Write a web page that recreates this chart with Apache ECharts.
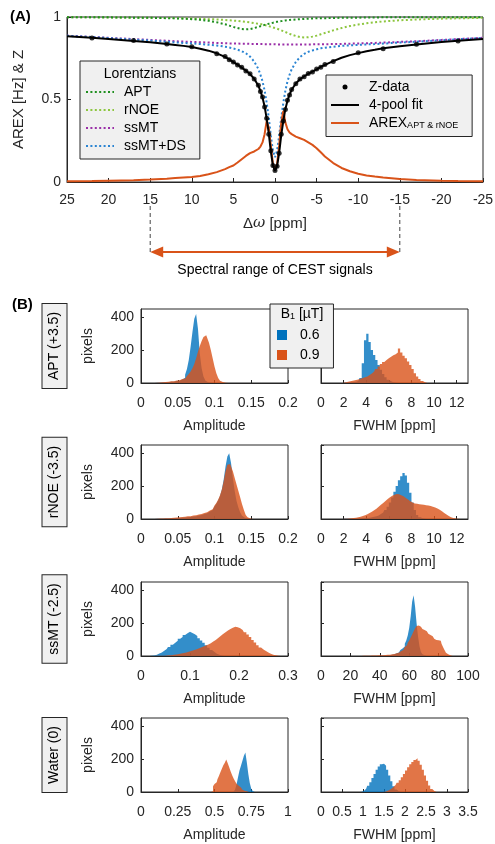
<!DOCTYPE html>
<html>
<head>
<meta charset="utf-8">
<script src="https://cdn.jsdelivr.net/npm/echarts@6/dist/echarts.min.js"></script>
<style>
  html, body { margin: 0; padding: 0; background: #fff; }
  #chart { width: 495px; height: 844px; }
</style>
</head>
<body>
<div id="chart"></div>
<script>
// ---------- Panel A: Z-spectrum, Lorentzian pools and AREX ----------
const offsets = [25,22,20,17,15,13,12,11,10,9,8,7,6,5.5,5,4.5,4,3.5,3,2.5,2,1.75,1.5,1.25,1,0.75,0.5,0.25,0,
  -0.25,-0.5,-0.75,-1,-1.25,-1.5,-1.75,-2,-2.5,-3,-3.5,-4,-4.5,-5,-5.5,-6,-7,-8,-9,-10,-11,-12,-13,-15,-17,-20,-22,-25];

const aptCurve = [0.999,0.998,0.998,0.996,0.995,0.993,0.992,0.990,0.987,0.983,0.977,0.968,0.956,0.948,0.940,0.933,0.927,0.925,0.927,0.933,0.940,0.944,0.948,0.952,0.956,0.959,0.963,0.965,0.968,
  0.971,0.973,0.975,0.977,0.979,0.980,0.982,0.983,0.985,0.987,0.988,0.990,0.991,0.992,0.993,0.993,0.994,0.995,0.996,0.996,0.997,0.997,0.998,0.998,0.998,0.999,0.999,0.999];

const rnoeCurve = [0.998,0.998,0.997,0.996,0.995,0.994,0.993,0.992,0.991,0.989,0.987,0.985,0.982,0.980,0.978,0.976,0.973,0.970,0.967,0.963,0.959,0.957,0.954,0.951,0.948,0.945,0.941,0.937,0.933,
  0.929,0.924,0.919,0.914,0.909,0.903,0.898,0.893,0.885,0.879,0.876,0.877,0.881,0.887,0.895,0.903,0.919,0.933,0.945,0.954,0.962,0.968,0.973,0.980,0.985,0.990,0.992,0.995];

const ssmtCurve = [0.887,0.879,0.874,0.866,0.861,0.856,0.853,0.851,0.849,0.847,0.845,0.843,0.841,0.840,0.840,0.839,0.838,0.838,0.837,0.837,0.836,0.836,0.836,0.835,0.835,0.835,0.835,0.835,0.835,
  0.834,0.834,0.834,0.834,0.834,0.834,0.834,0.834,0.834,0.834,0.834,0.834,0.834,0.835,0.835,0.835,0.836,0.837,0.838,0.840,0.841,0.843,0.845,0.849,0.853,0.861,0.866,0.874];

const ssmtDsCurve = [0.886,0.878,0.872,0.863,0.857,0.850,0.846,0.843,0.840,0.836,0.832,0.827,0.820,0.815,0.809,0.802,0.793,0.780,0.760,0.730,0.685,0.650,0.610,0.555,0.480,0.390,0.280,0.190,0.150,
  0.190,0.280,0.390,0.480,0.555,0.610,0.650,0.683,0.727,0.757,0.776,0.789,0.797,0.804,0.810,0.814,0.820,0.825,0.828,0.831,0.834,0.836,0.839,0.845,0.850,0.859,0.865,0.873];

const fitCurve = [0.883,0.874,0.867,0.855,0.847,0.837,0.831,0.825,0.818,0.808,0.796,0.780,0.758,0.743,0.727,0.711,0.693,0.675,0.654,0.626,0.584,0.551,0.512,0.458,0.384,0.294,0.184,0.100,0.068,
  0.097,0.177,0.284,0.371,0.443,0.493,0.530,0.559,0.597,0.623,0.640,0.656,0.669,0.683,0.698,0.710,0.733,0.753,0.769,0.781,0.793,0.801,0.810,0.823,0.833,0.848,0.856,0.867];

const arexCurve = [0.004,0.006,0.008,0.011,0.015,0.020,0.024,0.027,0.030,0.037,0.047,0.060,0.078,0.090,0.100,0.118,0.138,0.158,0.175,0.185,0.200,0.215,0.240,0.290,0.370,0.330,0.220,0.110,0.070,
  0.110,0.220,0.360,0.430,0.360,0.320,0.300,0.290,0.275,0.265,0.255,0.240,0.225,0.205,0.180,0.155,0.115,0.085,0.065,0.050,0.040,0.033,0.027,0.018,0.012,0.008,0.006,0.004];

const zOffsets = [22,17,13,10,7,6,5.5,5,4.5,4,3.5,3,2.5,2,1.75,1.5,1.25,1,0.75,0.5,0.25,0,
  -0.25,-0.5,-0.75,-1,-1.25,-1.5,-1.75,-2,-2.5,-3,-3.5,-4,-4.5,-5,-5.5,-6,-7,-10,-13,-17,-22];
const zValues = [0.872,0.857,0.836,0.820,0.778,0.760,0.741,0.728,0.709,0.695,0.673,0.656,0.624,0.586,0.548,0.515,0.455,0.387,0.290,0.190,0.100,0.070,
  0.095,0.175,0.290,0.370,0.440,0.495,0.528,0.561,0.595,0.625,0.638,0.658,0.667,0.685,0.696,0.712,0.731,0.783,0.808,0.835,0.855];

const spectralRange = [15, -15];

// ---------- Panel B: fitted-parameter histograms (pixel counts per bin) ----------
// bins = [left edge of first bin, bin width]
const aptAmpBins = [0.02, 0.0025];
const aptAmp06 = [1,2,2,3,4,4,5,6,7,8,10,12,14,17,22,32,50,85,140,220,310,390,420,330,180,90,40,15,5,2,0];
const aptAmp09 = [1,2,3,4,5,6,7,8,10,11,13,15,17,20,24,28,34,42,55,70,90,115,150,190,225,255,280,290,275,245,200,150,100,60,30,14,6,2,1];
const aptFwhmBins = [2.0, 0.2];
const aptFwhm06 = [2,3,4,5,6,8,12,30,120,260,300,250,200,170,140,110,80,55,35,20,10,5,2,1];
const aptFwhm09 = [3,6,9,12,15,18,22,26,30,35,40,48,58,70,85,100,115,128,140,150,160,168,175,185,210,185,165,150,130,110,85,60,40,25,12,5,2];

const rnoeAmpBins = [0.02, 0.0025];
const rnoeAmp06 = [1,1,2,2,3,3,3,4,4,5,5,6,6,7,8,9,10,11,12,14,15,17,19,21,24,27,31,35,40,46,54,64,76,92,112,140,180,240,320,380,400,340,250,170,110,70,40,20,8,3,1];
const rnoeAmp09 = [2,2,3,3,4,4,5,5,6,7,8,9,10,11,12,13,14,16,17,19,21,23,25,27,30,33,37,41,46,52,60,70,82,98,118,145,180,230,290,330,335,320,290,250,210,170,130,90,55,25,10,3,1];
const rnoeFwhmBins = [2.0, 0.2];
const rnoeFwhm06 = [1,1,1,2,2,2,3,3,4,5,6,8,10,13,17,22,30,40,55,75,100,130,165,200,235,260,280,265,220,160,100,55,25,10,4,2,1];
const rnoeFwhm09 = [1,2,3,4,6,8,11,14,18,23,29,36,44,53,63,74,86,98,110,122,133,142,148,152,150,145,138,128,118,108,100,95,92,90,88,86,84,82,79,75,70,64,56,47,37,27,18,11,6,3,1];

const ssmtAmpBins = [0.02, 0.005];
const ssmtAmp06 = [1,3,8,15,22,32,42,55,68,80,92,105,115,128,138,148,140,132,122,108,95,80,65,50,36,24,14,7,3,1];
const ssmtAmp09 = [0,0,1,1,2,2,3,4,5,7,9,12,15,18,22,26,30,35,40,46,52,58,64,70,78,88,98,110,122,134,145,155,164,172,178,175,168,158,145,130,115,98,82,66,52,40,30,21,14,8,4,2,1];
const ssmtFwhm06Bins = [40, 1];
const ssmtFwhm06 = [1,1,2,2,3,4,5,6,8,10,13,17,22,28,36,46,58,75,95,125,170,240,330,370,300,200,120,60,25,10,4,1];
const ssmtFwhm09Bins = [28, 1];
const ssmtFwhm09 = [1,1,2,2,2,2,3,3,3,3,4,4,4,5,5,6,6,7,8,9,10,12,14,17,20,25,30,37,45,55,66,80,95,112,130,150,168,182,186,178,170,164,158,150,142,135,128,120,112,105,98,96,100,92,75,55,36,20,10,4,1];

const waterAmp06Bins = [0.62, 0.01];
const waterAmp06 = [1,4,15,45,90,130,160,190,220,240,180,110,55,20,6,1];
const waterAmp09Bins = [0.48, 0.01];
const waterAmp09 = [5,35,48,60,78,98,120,142,162,178,198,175,150,125,102,82,65,50,38,28,20,13,8,4,2,1];
const waterFwhm06Bins = [0.95, 0.05];
const waterFwhm06 = [2,8,20,38,60,85,110,135,155,168,172,160,135,100,65,35,15,5,1];
const waterFwhm09Bins = [1.5, 0.05];
const waterFwhm09 = [2,6,12,20,30,42,56,72,90,110,130,150,168,182,195,205,190,165,135,100,68,40,18,6,1];

// pool labels and axis ranges [min, max, tick step] per histogram row
const poolLabels = ['APT (+3.5)', 'rNOE (-3.5)', 'ssMT (-2.5)', 'Water (0)'];
const ampAxes = [[0, 0.2, 0.05], [0, 0.2, 0.05], [0, 0.3, 0.1], [0, 1, 0.25]];
const fwhmAxes = [[0, 13, 2], [0, 13, 2], [0, 100, 20], [0, 3.5, 0.5]];
const pixelAxis = [0, 450, 200];
const b1Levels = ['0.6', '0.9'];

const histData = [
  [[aptAmpBins, aptAmp06, aptAmpBins, aptAmp09], [aptFwhmBins, aptFwhm06, aptFwhmBins, aptFwhm09]],
  [[rnoeAmpBins, rnoeAmp06, rnoeAmpBins, rnoeAmp09], [rnoeFwhmBins, rnoeFwhm06, rnoeFwhmBins, rnoeFwhm09]],
  [[ssmtAmpBins, ssmtAmp06, ssmtAmpBins, ssmtAmp09], [ssmtFwhm06Bins, ssmtFwhm06, ssmtFwhm09Bins, ssmtFwhm09]],
  [[waterAmp06Bins, waterAmp06, waterAmp09Bins, waterAmp09], [waterFwhm06Bins, waterFwhm06, waterFwhm09Bins, waterFwhm09]]
];

// ---------- styling ----------
const FONT = '"Liberation Sans", Arial, Helvetica, sans-serif';
const INK = '#262626';
const BLUE = '#0072BD';
const ORANGE = '#D95319';
const C_APT = '#1f8f1f';
const C_RNOE = '#8dc63f';
const C_SSMT = '#9a2fa8';
const C_DS = '#2a84d2';

function pairs(xs, ys) { return xs.map((x, i) => [x, ys[i]]); }

// turn bin counts into step points (bin centres) closed with zero at both ends
function histSteps(bins, counts) {
  const start = bins[0], w = bins[1];
  const pts = [[start - w / 2, 0]];
  counts.forEach((c, i) => pts.push([start + (i + 0.5) * w, c]));
  pts.push([start + (counts.length + 0.5) * w, 0]);
  return pts;
}

const grids = [];
const xAxes = [];
const yAxes = [];
const series = [];

const tickStyle = { show: true, inside: true, length: 4, lineStyle: { color: INK, width: 1 } };
const labelStyle = { color: INK, fontFamily: FONT, fontSize: 14, hideOverlap: false };
const axisLineStyle = { show: true, onZero: false, lineStyle: { color: INK } };

// Panel A grid
grids.push({ left: 67, top: 17, width: 416, height: 165, show: true, borderColor: INK, borderWidth: 1,
  backgroundColor: 'transparent', outerBoundsMode: 'none', containLabel: false });
xAxes.push({
  type: 'value', gridIndex: 0, min: -25, max: 25, interval: 5, inverse: true,
  axisLine: axisLineStyle, axisTick: tickStyle, splitLine: { show: false },
  axisLabel: Object.assign({ margin: 11 }, labelStyle),
  name: '{d|Δ}{w|ω}{p| [ppm]}', nameLocation: 'middle', nameGap: 34,
  nameTextStyle: { color: INK, fontFamily: FONT, fontSize: 15, rich: {
    d: { fontFamily: FONT, fontSize: 15, color: INK },
    w: { fontFamily: '"DejaVu Serif", serif', fontStyle: 'italic', fontSize: 15, color: INK },
    p: { fontFamily: FONT, fontSize: 15, color: INK } } }
});
yAxes.push({
  type: 'value', gridIndex: 0, min: 0, max: 1, interval: 0.5,
  axisLine: axisLineStyle, axisTick: tickStyle, splitLine: { show: false },
  axisLabel: Object.assign({ margin: 6 }, labelStyle),
  name: 'AREX [Hz] & Z', nameLocation: 'middle', nameGap: 41,
  nameTextStyle: { color: INK, fontFamily: FONT, fontSize: 15 }
});

const dotted = (color) => ({ color, width: 2, type: [2, 2.4], cap: 'butt' });
series.push(
  { name: 'rNOE', type: 'line', data: pairs(offsets, rnoeCurve), symbol: 'none', lineStyle: dotted(C_RNOE), itemStyle: { color: C_RNOE }, z: 2 },
  { name: 'APT', type: 'line', data: pairs(offsets, aptCurve), symbol: 'none', lineStyle: dotted(C_APT), itemStyle: { color: C_APT }, z: 2 },
  { name: 'ssMT', type: 'line', data: pairs(offsets, ssmtCurve), symbol: 'none', lineStyle: dotted(C_SSMT), itemStyle: { color: C_SSMT }, z: 2 },
  { name: 'ssMT+DS', type: 'line', data: pairs(offsets, ssmtDsCurve), symbol: 'none', lineStyle: dotted(C_DS), itemStyle: { color: C_DS }, z: 3 },
  { name: 'AREX', type: 'line', data: pairs(offsets, arexCurve), symbol: 'none', lineStyle: { color: ORANGE, width: 2 }, itemStyle: { color: ORANGE }, z: 3 },
  { name: '4-pool fit', type: 'line', data: pairs(offsets, fitCurve), symbol: 'none', lineStyle: { color: '#000', width: 2 }, itemStyle: { color: '#000' }, z: 4 },
  { name: 'Z-data', type: 'scatter', data: pairs(zOffsets, zValues), symbol: 'circle', symbolSize: 5, itemStyle: { color: '#000' }, z: 5 }
);
series.forEach(s => { s.xAxisIndex = 0; s.yAxisIndex = 0; s.silent = true; });

// Panel B grids: two columns per row
const rowTops = [309, 445, 582, 718];
const colLefts = [141, 321];
rowTops.forEach((top, r) => {
  colLefts.forEach((left, c) => {
    const gi = grids.length;
    grids.push({ left, top, width: 147, height: 74, show: true, borderColor: INK, borderWidth: 1,
      backgroundColor: 'transparent', outerBoundsMode: 'none', containLabel: false });
    const ax = c === 0 ? ampAxes[r] : fwhmAxes[r];
    const needsMaxHidden = Math.abs(Math.round(ax[1] / ax[2]) * ax[2] - ax[1]) > 1e-9;
    xAxes.push({
      type: 'value', gridIndex: gi, min: ax[0], max: ax[1], interval: ax[2],
      axisLine: axisLineStyle,
      axisTick: Object.assign({}, tickStyle, { length: 3 }), splitLine: { show: false },
      axisLabel: Object.assign({ margin: 13, showMaxLabel: !needsMaxHidden }, labelStyle),
      name: c === 0 ? 'Amplitude' : 'FWHM [ppm]', nameLocation: 'middle', nameGap: 36,
      nameTextStyle: { color: INK, fontFamily: FONT, fontSize: 14 }
    });
    yAxes.push({
      type: 'value', gridIndex: gi, min: pixelAxis[0], max: pixelAxis[1], interval: pixelAxis[2],
      axisLine: axisLineStyle,
      axisTick: Object.assign({}, tickStyle, { length: 3 }), splitLine: { show: false },
      axisLabel: Object.assign({ margin: 7, show: c === 0, showMaxLabel: false }, labelStyle),
      name: c === 0 ? 'pixels' : '', nameLocation: 'middle', nameGap: 46,
      nameTextStyle: { color: INK, fontFamily: FONT, fontSize: 14 }
    });
    const d = histData[r][c];
    [[d[0], d[1], BLUE, b1Levels[0]], [d[2], d[3], ORANGE, b1Levels[1]]].forEach(([bins, counts, color, name], k) => {
      series.push({
        type: 'line', name, xAxisIndex: gi, yAxisIndex: gi, data: histSteps(bins, counts),
        step: 'middle', symbol: 'none', silent: true, z: 2 + k,
        lineStyle: { width: 0, color }, itemStyle: { color },
        areaStyle: { color, opacity: 0.8 }
      });
    });
  });
});

const legendText = { fontFamily: FONT, fontSize: 14, color: '#000' };
// line keys only: hide the marker ECharts places in the middle of a line key
const hiddenMarker = { opacity: 0 };

const option = {
  animation: false,
  backgroundColor: '#fff',
  grid: grids,
  xAxis: xAxes,
  yAxis: yAxes,
  series,
  legend: [
    {
      data: ['APT', 'rNOE', 'ssMT', 'ssMT+DS'], orient: 'vertical', left: 80, top: 61,
      padding: [24, 14, 6, 5], itemWidth: 28, itemHeight: 6, itemGap: 4,
      backgroundColor: '#f0f0f0', borderColor: INK, borderWidth: 1, borderRadius: 0,
      itemStyle: hiddenMarker,
      selectedMode: false, textStyle: Object.assign({ padding: [0, 0, 0, 5] }, legendText)
    },
    {
      data: [{ name: 'Z-data', icon: 'circle', itemStyle: { opacity: 1, color: '#000' } }, '4-pool fit', 'AREX'],
      orient: 'vertical', left: 326, top: 75,
      padding: [5, 14, 6, 4], itemWidth: 28, itemHeight: 5, itemGap: 4,
      backgroundColor: '#f0f0f0', borderColor: INK, borderWidth: 1, borderRadius: 0,
      itemStyle: hiddenMarker,
      selectedMode: false,
      formatter: (name) => name === 'AREX' ? '{m|AREX}{s|APT & rNOE}' : name,
      textStyle: Object.assign({ padding: [0, 0, 0, 5], rich: {
        m: { fontFamily: FONT, fontSize: 14, color: '#000' },
        s: { fontFamily: FONT, fontSize: 9, color: '#000', verticalAlign: 'bottom', padding: [6, 0, 0, 0] } } }, legendText)
    },
    {
      data: [{ name: b1Levels[0], icon: 'rect', itemStyle: { color: BLUE } }, { name: b1Levels[1], icon: 'rect', itemStyle: { color: ORANGE } }],
      orient: 'vertical', left: 270, top: 304,
      padding: [24, 14, 6, 7], itemWidth: 10, itemHeight: 10, itemGap: 6,
      backgroundColor: '#f0f0f0', borderColor: INK, borderWidth: 1, borderRadius: 0,
      selectedMode: false, textStyle: Object.assign({ padding: [0, 0, 0, 8] }, legendText), z: 10
    }
  ]
};

const chart = echarts.init(document.getElementById('chart'), null, { renderer: 'canvas' });
chart.setOption(option);

// ---------- annotations ----------
const graphics = [
  { type: 'text', x: 10, y: 17, style: { text: '(A)', font: 'bold 15px ' + FONT, fill: '#000', verticalAlign: 'middle' } },
  { type: 'text', x: 12, y: 305, style: { text: '(B)', font: 'bold 15px ' + FONT, fill: '#000', verticalAlign: 'middle' } },
  { type: 'text', x: 140, y: 74, z: 20, style: { text: 'Lorentzians', font: '14px ' + FONT, fill: '#000', align: 'center', verticalAlign: 'middle' } },
  { type: 'text', x: 302, y: 314, z: 20, style: { text: '{b|B}{s|1}{b| [µT]}', align: 'center', verticalAlign: 'middle',
    rich: { b: { fontFamily: FONT, fontSize: 14, fill: '#000' }, s: { fontFamily: FONT, fontSize: 9, fill: '#000', verticalAlign: 'bottom', padding: [5, 0, 0, 0] } } } }
];
rowTops.forEach((top, r) => {
  graphics.push({
    type: 'text', x: 54.5, y: top + 37, rotation: Math.PI / 2,
    style: { text: poolLabels[r], font: '14px ' + FONT, fill: '#000', align: 'center', verticalAlign: 'middle',
      backgroundColor: '#f0f0f0', borderColor: INK, borderWidth: 1, padding: [5, 8] }
  });
});

const xL = chart.convertToPixel({ xAxisIndex: 0 }, spectralRange[0]);
const xR = chart.convertToPixel({ xAxisIndex: 0 }, spectralRange[1]);
const arrowY = 252;
graphics.push(
  { type: 'line', shape: { x1: xL, y1: 206, x2: xL, y2: arrowY }, style: { stroke: '#444', lineWidth: 1, lineDash: [4, 3] } },
  { type: 'line', shape: { x1: xR, y1: 206, x2: xR, y2: arrowY }, style: { stroke: '#444', lineWidth: 1, lineDash: [4, 3] } },
  { type: 'line', shape: { x1: xL + 8, y1: arrowY, x2: xR - 8, y2: arrowY }, style: { stroke: ORANGE, lineWidth: 2 } },
  { type: 'polygon', shape: { points: [[xL, arrowY], [xL + 13, arrowY - 5.5], [xL + 13, arrowY + 5.5]] }, style: { fill: ORANGE } },
  { type: 'polygon', shape: { points: [[xR, arrowY], [xR - 13, arrowY - 5.5], [xR - 13, arrowY + 5.5]] }, style: { fill: ORANGE } },
  { type: 'text', x: (xL + xR) / 2, y: 270, style: { text: 'Spectral range of CEST signals', font: '14px ' + FONT, fill: '#000', align: 'center', verticalAlign: 'middle' } }
);
chart.setOption({ graphic: graphics });
</script>
</body>
</html>
